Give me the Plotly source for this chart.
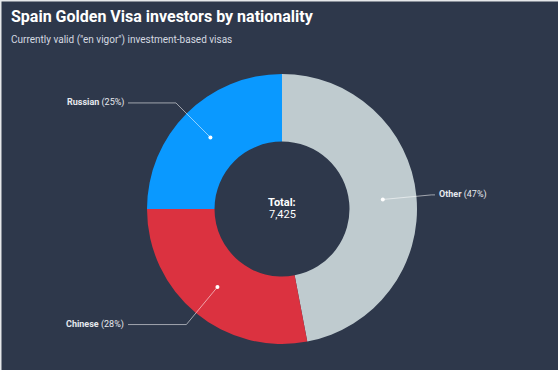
import math
import plotly.graph_objects as go

# ---- data ----
labels = ["Other", "Chinese", "Russian"]
values = [3490, 2079, 1856]
percent_labels = ["47%", "28%", "25%"]
colors = ["#bfcbcf", "#db3240", "#0a99ff"]
total = sum(values)
title = "Spain Golden Visa investors by nationality"
subtitle = "Currently valid (\"en vigor\") investment-based visas"

# ---- layout constants (pixels) ----
W, H = 558, 370
CX, CY = 282, 209
R_OUT = 135
HOLE = 0.5
R_DOT = R_OUT * (1 + HOLE) / 2
R_ELBOW = 150
LEFT_X = 128
RIGHT_X = 435
BG = "#2e384b"
FONT = "Roboto"


def px(x):
    return x / W


def py(y):
    return 1 - y / H


fig = go.Figure()
fig.add_trace(go.Pie(
    labels=labels, values=values, hole=HOLE, sort=False,
    direction="clockwise", rotation=0,
    marker=dict(colors=colors, line=dict(width=0)),
    textinfo="none", hoverinfo="label+percent",
    domain=dict(x=[px(CX - R_OUT), px(CX + R_OUT)],
                y=[py(CY + R_OUT), py(CY - R_OUT)]),
    showlegend=False,
))

shapes = []
annotations = []
cum = 0
for lab, v, pl in zip(labels, values, percent_labels):
    theta = 2 * math.pi * (cum + v / 2) / total
    cum += v
    s, c = math.sin(theta), math.cos(theta)
    dx, dy = CX + R_DOT * s, CY - R_DOT * c
    ex, ey = CX + R_ELBOW * s, CY - R_ELBOW * c
    endx = LEFT_X if s < 0 else RIGHT_X
    path = f"M {px(dx)} {py(dy)} L {px(ex)} {py(ey)} L {px(endx)} {py(ey)}"
    shapes.append(dict(type="path", xref="paper", yref="paper", path=path,
                       line=dict(color="rgba(255,255,255,0.55)", width=1)))
    shapes.append(dict(type="circle", xref="paper", yref="paper",
                       x0=px(dx - 2), x1=px(dx + 2), y0=py(dy + 2), y1=py(dy - 2),
                       fillcolor="white", line=dict(width=0)))
    annotations.append(dict(
        xref="paper", yref="paper",
        x=px(endx - 2) if s < 0 else px(endx + 2), y=py(ey),
        xanchor="right" if s < 0 else "left", yanchor="middle",
        text=f"<b>{lab}</b> ({pl})", showarrow=False,
        font=dict(family=FONT, size=9, color="#e6e9ee")))

# frame lines (left/top light edge of the reference)
shapes.append(dict(type="path", xref="paper", yref="paper",
                   path="M 0 0 L 0 1 L 1 1",
                   line=dict(color="#e6e8ea", width=3)))

annotations.append(dict(xref="paper", yref="paper", x=px(CX), y=py(202),
                        xanchor="center", yanchor="middle",
                        text="<b>Total:</b>", showarrow=False,
                        font=dict(family=FONT, size=11, color="#ffffff")))
annotations.append(dict(xref="paper", yref="paper", x=px(CX), y=py(215),
                        xanchor="center", yanchor="middle",
                        text=f"{total:,}", showarrow=False,
                        font=dict(family=FONT, size=11, color="#ffffff")))
annotations.append(dict(xref="paper", yref="paper", x=px(9), y=py(17),
                        xanchor="left", yanchor="middle",
                        text=f"<b>{title}</b>", showarrow=False,
                        font=dict(family=FONT, size=16, color="#ffffff")))
annotations.append(dict(xref="paper", yref="paper", x=px(9), y=py(40),
                        xanchor="left", yanchor="middle",
                        text=subtitle, showarrow=False,
                        font=dict(family=FONT, size=10, color="#d5dae1")))

fig.update_layout(
    width=W, height=H,
    margin=dict(l=0, r=0, t=0, b=0),
    paper_bgcolor=BG, plot_bgcolor=BG,
    shapes=shapes, annotations=annotations,
    font=dict(family=FONT),
)

fig.write_html(
    "out.html",
    config={"displayModeBar": False},
    post_script="document.body.style.margin='0';document.body.style.overflow='hidden';",
)
